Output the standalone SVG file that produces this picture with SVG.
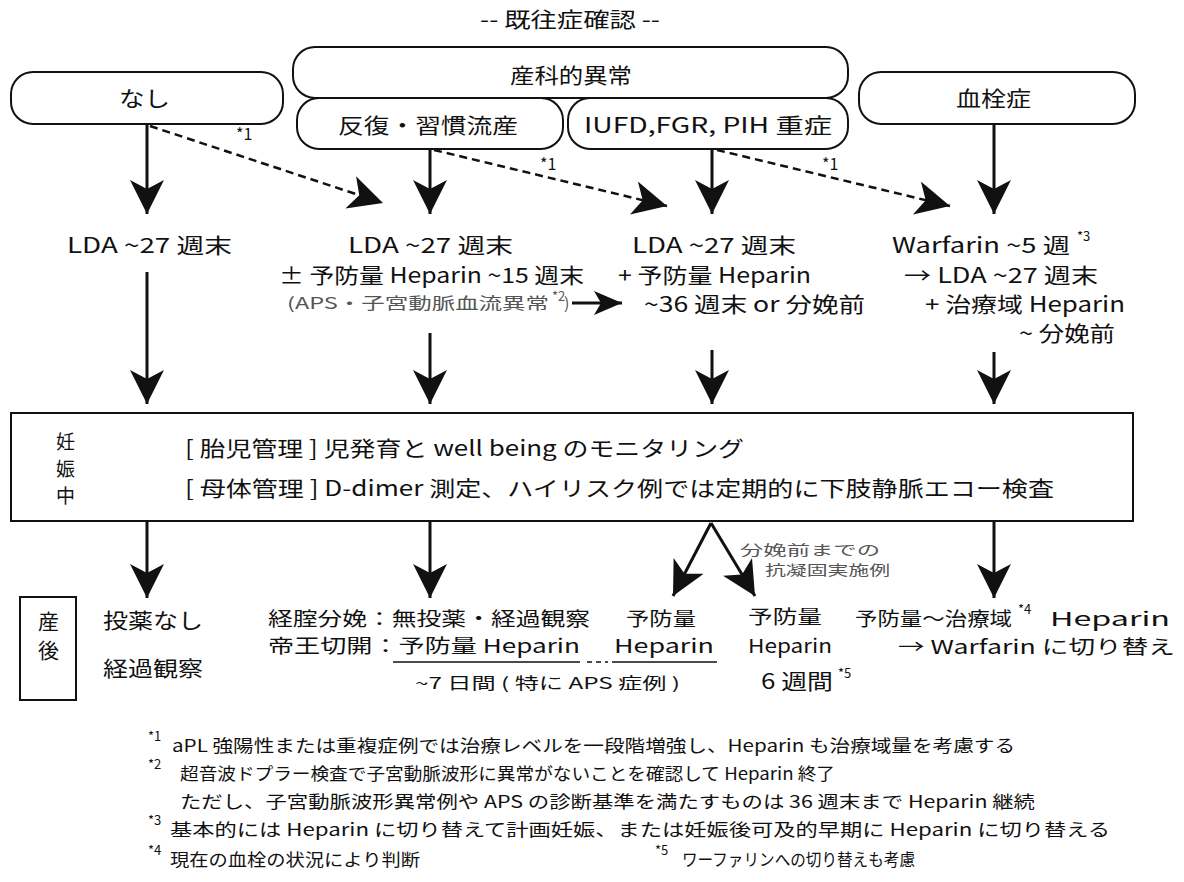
<svg xmlns="http://www.w3.org/2000/svg" width="1184" height="882" viewBox="0 0 1184 882">
<defs>
<style>
text{font-family:"Noto Sans CJK JP","Noto Sans",sans-serif;fill:#111;}
.m{font-size:21px;}
.v{font-size:19px;}
.p{font-size:19px;}
.s{font-size:16px;}
.t{font-size:14px;}
.f{font-size:17px;}
.sup{font-size:13px;}
.g{fill:#555;}
.box{fill:#fff;stroke:#111;stroke-width:2;}
.ln{stroke:#111;stroke-width:3;fill:none;}
.dl{stroke:#111;stroke-width:2.5;fill:none;stroke-dasharray:8 5;}
.ul{stroke:#111;stroke-width:1.5;fill:none;}
</style>
<marker id="ah" viewBox="0 0 34 34" refX="34" refY="17" markerWidth="34" markerHeight="34" markerUnits="userSpaceOnUse" orient="auto">
<path d="M0,0 L34,17 L0,34 L9,17 Z" fill="#111"/>
</marker>
<marker id="ahs" viewBox="0 0 28 24" refX="28" refY="12" markerWidth="28" markerHeight="24" markerUnits="userSpaceOnUse" orient="auto">
<path d="M0,0 L28,12 L0,24 L7,12 Z" fill="#111"/>
</marker>
</defs>
<rect width="1184" height="882" fill="#fff"/>

<g id="title"><text class="m" x="480" y="27" textLength="180" lengthAdjust="spacingAndGlyphs">-- 既往症確認 --</text></g>

<g id="node-sanka"><rect class="box" x="293" y="47" width="555" height="51" rx="22"/><text class="m" x="510" y="83" textLength="122" lengthAdjust="spacingAndGlyphs">産科的異常</text></g>
<g id="node-nashi"><rect class="box" x="11" y="72" width="272" height="52" rx="22"/><text class="m" x="119" y="106" textLength="51" lengthAdjust="spacingAndGlyphs">なし</text></g>
<g id="node-hanpuku"><rect class="box" x="297" y="98" width="266" height="51" rx="22"/><text class="m" x="338" y="133" textLength="180" lengthAdjust="spacingAndGlyphs">反復・習慣流産</text></g>
<g id="node-iufd"><rect class="box" x="568" y="98" width="280" height="51" rx="22"/><text class="m" x="584" y="133" textLength="248" lengthAdjust="spacingAndGlyphs">IUFD,FGR, PIH 重症</text></g>
<g id="node-kessen"><rect class="box" x="859" y="72" width="276" height="52" rx="22"/><text class="m" x="956" y="106" textLength="75" lengthAdjust="spacingAndGlyphs">血栓症</text></g>

<g id="connectors">
<line class="ln" x1="147" y1="124" x2="147" y2="214" marker-end="url(#ah)"/>
<line class="ln" x1="430" y1="149" x2="430" y2="214" marker-end="url(#ah)"/>
<line class="ln" x1="712" y1="149" x2="712" y2="214" marker-end="url(#ah)"/>
<line class="ln" x1="994" y1="124" x2="994" y2="214" marker-end="url(#ah)"/>
<line class="dl" x1="150" y1="126" x2="383" y2="203" marker-end="url(#ah)"/>
<line class="dl" x1="434" y1="150" x2="667" y2="206" marker-end="url(#ah)"/>
<line class="dl" x1="717" y1="150" x2="950" y2="206" marker-end="url(#ah)"/>
<line class="ln" x1="572" y1="303" x2="622" y2="303" marker-end="url(#ahs)"/>
<line class="ln" x1="147" y1="272" x2="147" y2="404" marker-end="url(#ah)"/>
<line class="ln" x1="430" y1="333" x2="430" y2="404" marker-end="url(#ah)"/>
<line class="ln" x1="712" y1="350" x2="712" y2="404" marker-end="url(#ah)"/>
<line class="ln" x1="994" y1="352" x2="994" y2="404" marker-end="url(#ah)"/>
<line class="ln" x1="147" y1="521" x2="147" y2="598" marker-end="url(#ah)"/>
<line class="ln" x1="430" y1="521" x2="430" y2="598" marker-end="url(#ah)"/>
<line class="ln" x1="994" y1="521" x2="994" y2="598" marker-end="url(#ah)"/>
<line class="ln" x1="711" y1="523" x2="673" y2="596" marker-end="url(#ah)"/>
<line class="ln" x1="711" y1="523" x2="755" y2="596" marker-end="url(#ah)"/>
<text class="s" x="236" y="140">*1</text>
<text class="s" x="540" y="170">*1</text>
<text class="s" x="822" y="170">*1</text>
<text class="t g" x="740" y="555" textLength="140" lengthAdjust="spacingAndGlyphs">分娩前までの</text>
<text class="t g" x="765" y="575" textLength="125" lengthAdjust="spacingAndGlyphs">抗凝固実施例</text>
</g>

<g id="col1-treat"><text class="m" x="67" y="253" textLength="165" lengthAdjust="spacingAndGlyphs">LDA ~27 週末</text></g>
<g id="col2-treat">
<text class="m" x="348" y="253" textLength="165" lengthAdjust="spacingAndGlyphs">LDA ~27 週末</text>
<text class="m" x="279" y="283" textLength="305" lengthAdjust="spacingAndGlyphs">± 予防量 Heparin ~15 週末</text>
<text class="s g" x="287" y="309" textLength="262" lengthAdjust="spacingAndGlyphs">(APS・子宮動脈血流異常</text>
<text class="sup g" x="552" y="301">*2</text>
<text class="s g" x="564" y="309">)</text>
</g>
<g id="col3-treat">
<text class="m" x="632" y="253" textLength="164" lengthAdjust="spacingAndGlyphs">LDA ~27 週末</text>
<text class="m" x="618" y="283" textLength="193" lengthAdjust="spacingAndGlyphs">+ 予防量 Heparin</text>
<text class="m" x="644" y="312" textLength="221" lengthAdjust="spacingAndGlyphs">~36 週末 or 分娩前</text>
</g>
<g id="col4-treat">
<text class="m" x="892" y="253" textLength="178" lengthAdjust="spacingAndGlyphs">Warfarin ~5 週</text>
<text class="sup" x="1077" y="241">*3</text>
<text class="m" x="904" y="283" textLength="194" lengthAdjust="spacingAndGlyphs">→ LDA ~27 週末</text>
<text class="m" x="925" y="312" textLength="200" lengthAdjust="spacingAndGlyphs">+ 治療域 Heparin</text>
<text class="m" x="1019" y="341" textLength="96" lengthAdjust="spacingAndGlyphs">~ 分娩前</text>
</g>

<g id="node-ninshin">
<rect class="box" x="11" y="413" width="1122" height="108"/>
<text class="v" x="56" y="449">妊</text>
<text class="v" x="56" y="476">娠</text>
<text class="v" x="56" y="503">中</text>
<text class="m" x="185" y="456" textLength="559" lengthAdjust="spacingAndGlyphs">[ 胎児管理 ] 児発育と well being のモニタリング</text>
<text class="m" x="185" y="496" textLength="869" lengthAdjust="spacingAndGlyphs">[ 母体管理 ] D-dimer 測定、ハイリスク例では定期的に下肢静脈エコー検査</text>
</g>

<g id="node-sango">
<rect class="box" x="20" y="597" width="56" height="103"/>
<text class="m" x="38" y="629">産</text>
<text class="m" x="38" y="658">後</text>
</g>
<g id="col1-post">
<text class="m" x="103" y="628" textLength="100" lengthAdjust="spacingAndGlyphs">投薬なし</text>
<text class="m" x="103" y="676" textLength="100" lengthAdjust="spacingAndGlyphs">経過観察</text>
</g>
<g id="col2-post">
<text class="p" x="268" y="626" textLength="322" lengthAdjust="spacingAndGlyphs">経腟分娩：無投薬・経過観察</text>
<text class="p" x="268" y="653" textLength="312" lengthAdjust="spacingAndGlyphs">帝王切開：予防量 Heparin</text>
<line class="ul" x1="393" y1="662" x2="580" y2="662"/>
<line class="ul" x1="587" y1="662" x2="608" y2="662" stroke-dasharray="5 4"/>
<line class="ul" x1="612" y1="662" x2="717" y2="662"/>
<text class="s" x="415" y="689" textLength="265" lengthAdjust="spacingAndGlyphs">~7 日間 ( 特に APS 症例 )</text>
</g>
<g id="col3-post">
<text class="p" x="626" y="626" textLength="70" lengthAdjust="spacingAndGlyphs">予防量</text>
<text class="p" x="614" y="653" textLength="100" lengthAdjust="spacingAndGlyphs">Heparin</text>
</g>
<g id="col3b-post">
<text class="p" x="748" y="624" textLength="74" lengthAdjust="spacingAndGlyphs">予防量</text>
<text class="p" x="748" y="653" textLength="84" lengthAdjust="spacingAndGlyphs">Heparin</text>
<text class="m" x="761" y="689" textLength="72" lengthAdjust="spacingAndGlyphs">6 週間</text>
<text class="sup" x="838" y="678">*5</text>
</g>
<g id="col4-post">
<text class="p" x="855" y="626" textLength="157" lengthAdjust="spacingAndGlyphs">予防量〜治療域</text>
<text class="sup" x="1018" y="614">*4</text>
<text class="p" x="1050" y="626" textLength="120" lengthAdjust="spacingAndGlyphs">Heparin</text>
<text class="p" x="898" y="654" textLength="277" lengthAdjust="spacingAndGlyphs">→ Warfarin に切り替え</text>
</g>

<g id="footnotes">
<text class="sup" x="148" y="741">*1</text>
<text class="f" x="172" y="752" textLength="843" lengthAdjust="spacingAndGlyphs">aPL 強陽性または重複症例では治療レベルを一段階増強し、Heparin も治療域量を考慮する</text>
<text class="sup" x="148" y="769">*2</text>
<text class="f" x="180" y="780" textLength="655" lengthAdjust="spacingAndGlyphs">超音波ドプラー検査で子宮動脈波形に異常がないことを確認して Heparin 終了</text>
<text class="f" x="180" y="808" textLength="855" lengthAdjust="spacingAndGlyphs">ただし、子宮動脈波形異常例や APS の診断基準を満たすものは 36 週末まで Heparin 継続</text>
<text class="sup" x="148" y="825">*3</text>
<text class="f" x="170" y="836" textLength="940" lengthAdjust="spacingAndGlyphs">基本的には Heparin に切り替えて計画妊娠、または妊娠後可及的早期に Heparin に切り替える</text>
<text class="sup" x="148" y="855">*4</text>
<text class="f" x="170" y="866" textLength="250" lengthAdjust="spacingAndGlyphs">現在の血栓の状況により判断</text>
<text class="sup" x="655" y="855">*5</text>
<text class="f" x="682" y="866" textLength="233" lengthAdjust="spacingAndGlyphs">ワーファリンへの切り替えも考慮</text>
</g>
</svg>
